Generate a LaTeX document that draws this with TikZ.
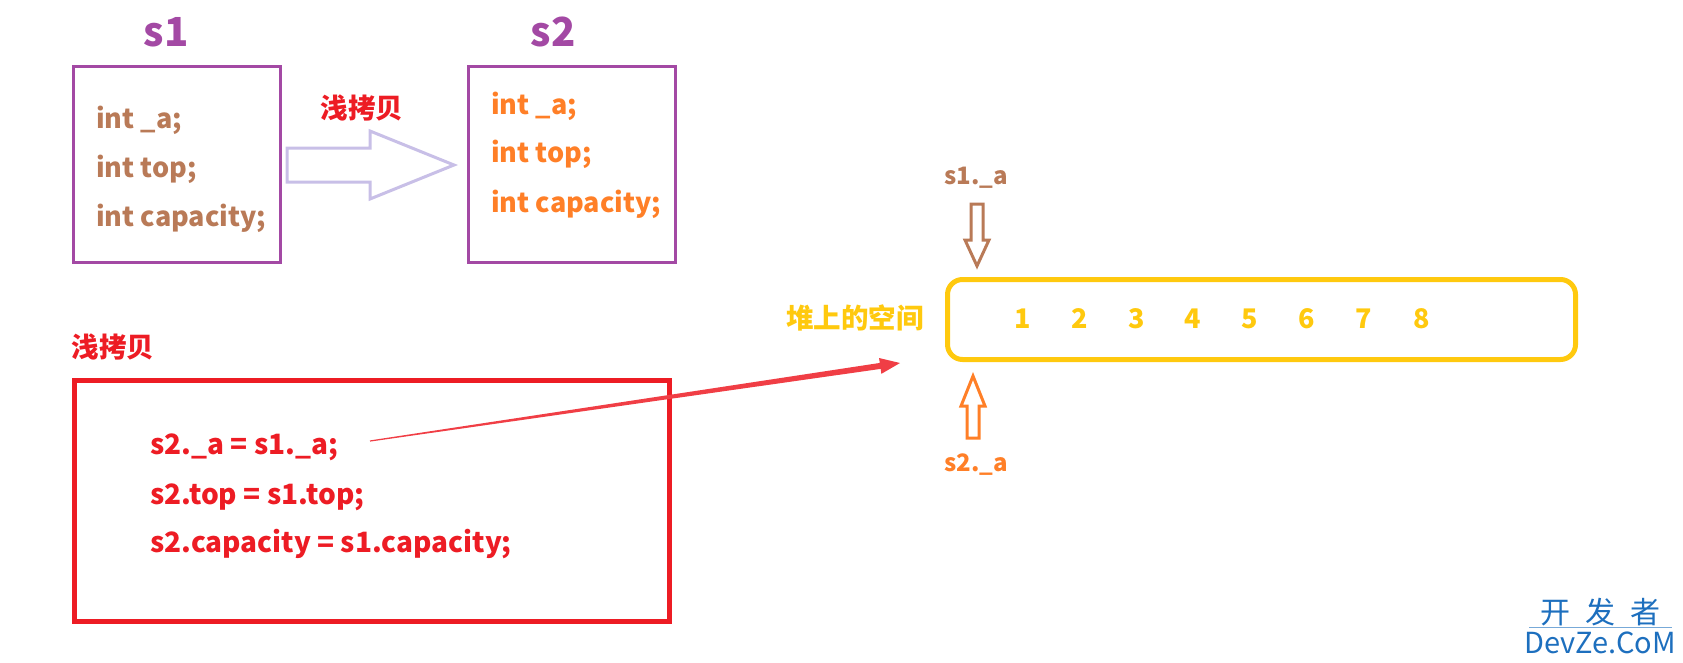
\documentclass[tikz,border=0pt]{standalone}
\usepackage{fontspec}
\setmainfont{Noto Sans CJK SC}
\usetikzlibrary{calc}
\definecolor{cpurple}{HTML}{A349A4}
\definecolor{cbrown}{HTML}{B97A57}
\definecolor{corange}{HTML}{FF7F27}
\definecolor{cred}{HTML}{ED1C24}
\definecolor{cyellow}{HTML}{FFC90E}
\definecolor{clav}{HTML}{C8BFE7}
\definecolor{cblue}{HTML}{1D6FBE}
\begin{document}
\begin{tikzpicture}[x=1pt,y=-1pt,
  title/.style={font=\bfseries\fontsize{40}{40}\selectfont, text=cpurple, inner sep=0},
  code/.style={font=\bfseries\fontsize{27}{27}\selectfont, anchor=mid west, inner sep=0},
  redcode/.style={font=\bfseries\fontsize{28}{28}\selectfont, anchor=mid west, inner sep=0, text=cred},
  small/.style={font=\bfseries\fontsize{24}{24}\selectfont, inner sep=0},
  cjklbl/.style={font=\bfseries\fontsize{27.5}{27.5}\selectfont, inner sep=0},
  num/.style={font=\bfseries\fontsize{27}{27}\selectfont, text=cyellow, inner sep=0},
  structbox/.style={draw=cpurple, line width=3pt, minimum width=207pt, minimum height=196pt, inner sep=0, anchor=north west},
  hollow/.style={line width=3pt, fill=white, line join=miter}]
\useasboundingbox (0,0) rectangle (1683,662);
% s1
\node[title] (t1) at (166,32) {s1};
\node[structbox] (s1box) at (72,65) {};
\node[code, text=cbrown] (a1) at (96,126) {int \_a;};
\node[code, text=cbrown] (b1) at (96,175) {int top;};
\node[code, text=cbrown] (c1) at (96,224) {int capacity;};
% s2
\node[title] (t2) at (553,32) {s2};
\node[structbox] (s2box) at (467,65) {};
\node[code, text=corange] (a2) at (491,112) {int \_a;};
\node[code, text=corange] (b2) at (491,160) {int top;};
\node[code, text=corange] (c2) at (491,210) {int capacity;};
% shallow copy arrow
\node[cjklbl, text=cred] (q1) at (362,108) {浅拷贝};
\draw[hollow, draw=clav] (287,148) -- (370,148) -- (370,131) -- (454,165) -- (370,199) -- (370,182) -- (287,182) -- cycle;
% heap
\node[draw=cyellow, line width=5pt, rounded corners=15pt, minimum width=628pt, minimum height=80pt, anchor=north west, inner sep=0] (heap) at (945,277) {};
\node[cjklbl, text=cyellow] (heaplbl) at (855,318) {堆上的空间};
\foreach \i/\x in {1/1023,2/1080,3/1137,4/1193,5/1250,6/1307,7/1364,8/1422}
  \node[num] (n\i) at (\x,319) {\i};
% s1._a pointer
\node[small, text=cbrown] (p1) at (976,178) {s1.\_a};
\draw[hollow, draw=cbrown] (971,204) -- (983,204) -- (983,240) -- (989,240) -- (977,266) -- (965,240) -- (971,240) -- cycle;
% s2._a pointer
\node[small, text=corange] (p2) at (976,465) {s2.\_a};
\draw[hollow, draw=corange] (967,438) -- (979,438) -- (979,406) -- (985,406) -- (973,376) -- (961,406) -- (967,406) -- cycle;
% shallow copy code
\node[cjklbl, text=cred] (q2) at (113,347) {浅拷贝};
\node[draw=cred, line width=4.5pt, minimum width=595pt, minimum height=241pt, anchor=north west, inner sep=0] (codebox) at (72,378) {};
\node[redcode] (r1) at (150,452) {s2.\_a = s1.\_a;};
\node[redcode] (r2) at (150,502) {s2.top = s1.top;};
\node[redcode] (r3) at (150,550) {s2.capacity = s1.capacity;};
% red tapered arrow
\coordinate (A) at (370,441);
\coordinate (B) at (900,363);
\coordinate (H) at ($(B)!20pt!(A)$);
\fill[cred!85!white] ($(A)!0.6pt!90:(B)$) -- ($(H)!3pt!-90:(A)$) -- ($(H)!8pt!-90:(A)$) -- (B) -- ($(H)!8pt!90:(A)$) -- ($(H)!3pt!90:(A)$) -- ($(A)!0.6pt!-90:(B)$) -- cycle;
% watermark
\node[font=\fontsize{30}{30}\selectfont, text=cblue, inner sep=0] (wm1) at (1600,612) {开\hspace{0.5em}发\hspace{0.5em}者};
\node[font=\fontsize{29}{29}\selectfont, text=cblue, inner sep=0] (wm2) at (1600,643) {DevZe.CoM};
\draw[cblue!60, line width=1pt] (1529,627) -- (1672,627);
\end{tikzpicture}
\end{document}
